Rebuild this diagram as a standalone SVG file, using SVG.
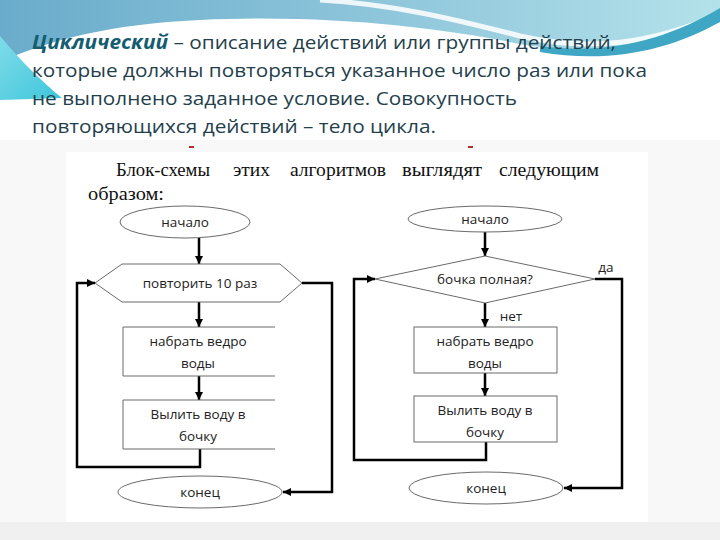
<svg xmlns="http://www.w3.org/2000/svg" width="720" height="540" viewBox="0 0 720 540">
<defs>
<linearGradient id="gBlue" x1="0" y1="0" x2="1" y2="0">
<stop offset="0" stop-color="#6aaccb"/>
<stop offset="0.5" stop-color="#8cc4da"/>
<stop offset="1" stop-color="#b4e2ea"/>
</linearGradient>
<linearGradient id="gCyan" x1="0" y1="0" x2="1" y2="1">
<stop offset="0" stop-color="#7fdbe8"/>
<stop offset="1" stop-color="#3ec6dc"/>
</linearGradient>
<marker id="ah" viewBox="0 0 10 10" refX="10" refY="5" markerWidth="9" markerHeight="8" markerUnits="userSpaceOnUse" orient="auto">
<path d="M0,0 L10,5 L0,10 Z" fill="#000"/>
</marker>
<style>
.head{font-family:"Open Sans","Liberation Sans",sans-serif;font-size:19px;fill:#243f4c}
.kw{font-weight:bold;font-style:italic;fill:#145c70}
.ser{font-family:"Liberation Serif","DejaVu Serif",serif;font-size:18px;fill:#111}
.shape{fill:#fff;stroke:#6a6a6a;stroke-width:1}
.lbl{font-family:"Open Sans","DejaVu Sans",sans-serif;font-size:13.5px;fill:#222;text-anchor:middle}
.con{fill:none;stroke:#000;stroke-width:2.5}
.arr{fill:none;stroke:#000;stroke-width:2.5;marker-end:url(#ah)}
</style>
</defs>

<!-- background -->
<rect width="720" height="540" fill="#ffffff"/>
<rect x="0" y="140" width="720" height="400" fill="#f8f8f8"/>
<rect x="66" y="152" width="582" height="370" fill="#ffffff"/>
<rect x="0" y="522" width="720" height="18" fill="#f0f0f0"/>
<path d="M0,0 H720 V22 C660,45 600,58 520,44 C440,28 330,14 200,20 C110,24 50,40 0,62 Z" fill="url(#gBlue)"/>
<path d="M0,36 C20,60 40,80 62,98 L0,100 Z" fill="url(#gCyan)"/>
<path d="M320,0 C390,4 450,18 520,36 C590,52 650,44 720,14" fill="none" stroke="#ffffff" stroke-width="5" opacity="0.85"/>
<path d="M540,46 C610,56 670,38 720,8 V22 C670,50 610,64 540,52 Z" fill="#3fa6c4"/>

<!-- heading text -->
<text class="head" x="32" y="49" textLength="584" lengthAdjust="spacingAndGlyphs"><tspan class="kw">Циклический</tspan> – описание действий или группы действий,</text>
<text class="head" x="32" y="77" textLength="615" lengthAdjust="spacingAndGlyphs">которые должны повторяться указанное число раз или пока</text>
<text class="head" x="32" y="105" textLength="485" lengthAdjust="spacingAndGlyphs">не выполнено заданное условие. Совокупность</text>
<text class="head" x="32" y="133" textLength="404" lengthAdjust="spacingAndGlyphs">повторяющихся действий – тело цикла.</text>

<!-- small marks -->
<rect x="189" y="146" width="5" height="2" fill="#b03030"/>
<rect x="468" y="146" width="5" height="2" fill="#b03030"/>

<!-- caption -->
<text class="ser" x="116" y="176" textLength="94" lengthAdjust="spacingAndGlyphs">Блок-схемы</text>
<text class="ser" x="233" y="176" textLength="37" lengthAdjust="spacingAndGlyphs">этих</text>
<text class="ser" x="290" y="176" textLength="96" lengthAdjust="spacingAndGlyphs">алгоритмов</text>
<text class="ser" x="402" y="176" textLength="80" lengthAdjust="spacingAndGlyphs">выглядят</text>
<text class="ser" x="499" y="176" textLength="100" lengthAdjust="spacingAndGlyphs">следующим</text>
<text class="ser" x="88" y="200" textLength="76" lengthAdjust="spacingAndGlyphs">образом:</text>

<!-- connectors -->
<g id="connectors">
<line class="arr" x1="199" y1="238" x2="199" y2="264"/>
<line class="arr" x1="199" y1="302" x2="199" y2="327"/>
<line class="arr" x1="199" y1="376" x2="199" y2="400"/>
<polyline class="arr" points="200,449 200,467 77,467 77,283 95,283"/>
<polyline class="arr" points="302,283 332,283 332,492 283,492"/>

<line class="arr" x1="485" y1="232" x2="485" y2="256"/>
<line class="arr" x1="485" y1="303" x2="485" y2="327"/>
<line class="arr" x1="485" y1="373" x2="485" y2="396"/>
<polyline class="arr" points="486,442 486,460 354,460 354,279 375,279"/>
<polyline class="arr" points="595,279 622,279 622,488 564,488"/>
</g>

<!-- left chart nodes -->
<g id="l-start">
<ellipse class="shape" cx="185" cy="222" rx="65" ry="16"/>
<text class="lbl" x="185" y="227">начало</text>
</g>
<g id="l-loop">
<polygon class="shape" points="95,283 122,264 280,264 302,283 280,302 122,302"/>
<text class="lbl" x="200" y="288">повторить 10 раз</text>
</g>
<g id="l-fill">
<path class="shape" d="M275,327 H123 V376 H275"/>
<text class="lbl" x="198" y="346">набрать ведро</text>
<text class="lbl" x="198" y="368">воды</text>
</g>
<g id="l-pour">
<path class="shape" d="M275,400 H123 V449 H275"/>
<text class="lbl" x="198" y="419">Вылить воду в</text>
<text class="lbl" x="198" y="441">бочку</text>
</g>
<g id="l-end">
<ellipse class="shape" cx="200" cy="492" rx="82" ry="16"/>
<text class="lbl" x="200" y="497">конец</text>
</g>

<!-- right chart nodes -->
<g id="r-start">
<ellipse class="shape" cx="485" cy="219" rx="77" ry="13"/>
<text class="lbl" x="485" y="224">начало</text>
</g>
<g id="r-cond">
<polygon class="shape" points="485,256 595,279 485,303 375,279"/>
<text class="lbl" x="485" y="284">бочка полная?</text>
<text class="lbl" x="606" y="272">да</text>
<text class="lbl" x="511" y="321">нет</text>
</g>
<g id="r-fill">
<rect class="shape" x="414" y="327" width="143" height="46"/>
<text class="lbl" x="485" y="346">набрать ведро</text>
<text class="lbl" x="485" y="368">воды</text>
</g>
<g id="r-pour">
<rect class="shape" x="414" y="396" width="143" height="46"/>
<text class="lbl" x="485" y="415">Вылить воду в</text>
<text class="lbl" x="485" y="437">бочку</text>
</g>
<g id="r-end">
<ellipse class="shape" cx="486" cy="488" rx="77" ry="16"/>
<text class="lbl" x="486" y="493">конец</text>
</g>
</svg>
